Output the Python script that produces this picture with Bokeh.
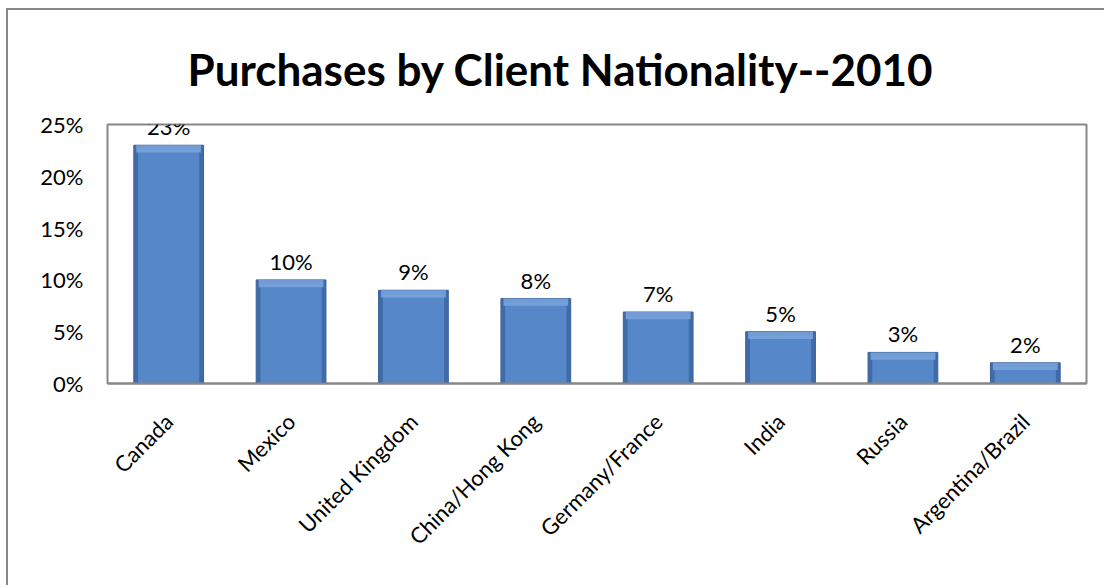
import numpy as np
from bokeh.plotting import figure
from bokeh.models import ColumnDataSource, FixedTicker, NumeralTickFormatter, FactorRange, Range1d
from bokeh.core.properties import value
from bokeh.embed import file_html
from bokeh.resources import INLINE

countries = ["Canada", "Mexico", "United Kingdom", "China/Hong Kong",
             "Germany/France", "India", "Russia", "Argentina/Brazil"]
shares = [0.23, 0.10, 0.09, 0.082, 0.069, 0.05, 0.03, 0.02]
labels = ["23%", "10%", "9%", "8%", "7%", "5%", "3%", "2%"]
y_ticks = [0, 0.05, 0.10, 0.15, 0.20, 0.25]

FONT = "Lato"
vals = np.array(shares)
src = ColumnDataSource(dict(x=countries, top=vals, lab=labels,
                            bevel=vals - 0.007, inner_top=vals - 0.004))

p = figure(x_range=FactorRange(*countries, range_padding=0),
           y_range=Range1d(0, 0.25),
           width=1098, height=577, output_backend="svg", toolbar_location=None,
           min_border_left=99, min_border_right=20, min_border_top=112, min_border_bottom=204)

p.styles = {"margin-left": "8px", "margin-top": "10px",
            "box-shadow": "-2px -2px 0px 0px #878787"}

p.title.text = "Purchases by Client Nationality--2010"
p.title.align = "left"
p.title.text_font = FONT
p.title.text_font_size = "44px"
p.title.text_font_style = "bold"
p.title.text_color = "#000000"
p.title.offset = 80
p.title.standoff = 60

# bars (simple bevel imitation)
p.vbar(x="x", top="top", bottom=0, width=0.57, source=src,
       fill_color="#3F6CA8", line_color="#3A6399", line_width=1)
p.vbar(x="x", top="inner_top", bottom=0, width=0.50, source=src,
       fill_color="#5688C9", line_color=None)
p.vbar(x="x", top="top", bottom="bevel", width=0.53, source=src,
       fill_color="#7BA5DC", line_color=None, fill_alpha=0.85)

p.text(x="x", y="top", text="lab", source=src, text_align="center",
       text_baseline="bottom", y_offset=-5, text_font=value(FONT),
       text_font_size="22px", text_color="#000000")

p.xgrid.grid_line_color = None
p.ygrid.grid_line_color = None
p.outline_line_color = "#878787"
p.outline_line_width = 2

p.yaxis.ticker = FixedTicker(ticks=y_ticks)
p.yaxis.formatter = NumeralTickFormatter(format="0%")
p.yaxis.axis_line_color = None
p.yaxis.major_tick_line_color = None
p.yaxis.minor_tick_line_color = None
p.yaxis.major_label_standoff = 18
p.yaxis.major_label_text_font = FONT
p.yaxis.major_label_text_font_size = "22px"
p.yaxis.major_label_text_color = "#000000"

p.xaxis.axis_line_color = "#878787"
p.xaxis.axis_line_width = 2
p.xaxis.major_tick_line_color = None
p.xaxis.minor_tick_line_color = None
p.xaxis.major_label_orientation = np.pi / 4
p.xaxis.major_label_standoff = 28
p.xaxis.major_label_text_font = FONT
p.xaxis.major_label_text_font_size = "22px"
p.xaxis.major_label_text_color = "#000000"

open("out.html", "w").write(file_html(p, INLINE))
